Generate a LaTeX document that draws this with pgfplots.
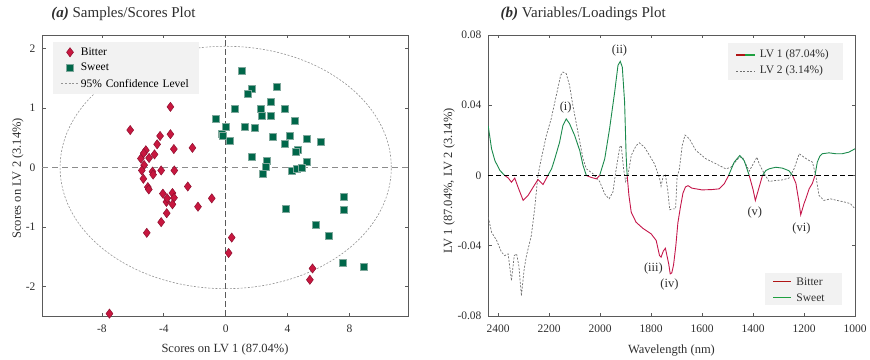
\documentclass[border=0pt]{standalone}
\usepackage{fontspec}
\setmainfont{Liberation Serif}
\usepackage{pgfplots}
\pgfplotsset{compat=1.18}
\definecolor{txt}{HTML}{2E2E2E}
\definecolor{axgray}{HTML}{5A5A5A}
\definecolor{bitterfill}{HTML}{C8173F}
\definecolor{bitteredge}{HTML}{8E1030}
\definecolor{sweetfill}{HTML}{00674A}
\definecolor{sweetedge}{HTML}{7FA89C}
\definecolor{lvred}{HTML}{C4164A}
\definecolor{lvgreen}{HTML}{1B8A4C}
\definecolor{bitterline}{HTML}{B01515}
\definecolor{sweetline}{HTML}{1FA040}
\definecolor{legbg}{HTML}{F2F2F2}
\definecolor{lvtwo}{HTML}{6E6E6E}
\pgfplotsset{
  common/.style={
    scale only axis, height=281pt,
    axis line style={axgray, line width=0.9pt},
    tick align=inside, major tick length=3.5pt,
    tick style={axgray, line width=0.7pt},
    every tick label/.append style={font=\fontsize{11.5}{13}\selectfont, text=txt},
    label style={font=\fontsize{12.5}{14}\selectfont, text=txt},
    legend style={fill=legbg, draw=none, font=\fontsize{11.5}{13}\selectfont,
      inner xsep=6pt, inner ysep=3.5pt, row sep=2.5pt},
    title style={font=\fontsize{15}{17}\selectfont, text=txt, anchor=base west},
    legend cell align=left,
    scaled ticks=false,
    /pgf/number format/assume math mode=true,
  }
}
\begin{document}
\begin{tikzpicture}
\path[use as bounding box] (0,0) rectangle (870pt,359pt);
% ---------------- (a) ----------------
\begin{axis}[common, at={(42pt,43pt)}, anchor=south west, width=366pt,
  xmin=-11.87, xmax=11.78, ymin=-2.5, ymax=2.23,
  xtick={-8,-4,0,4,8}, xticklabels={-8,-4,0,4,8},
  ytick={-2,-1,0,1,2}, yticklabels={-2,-1,0,1,2},
  xticklabel style={yshift=-5.5pt}, yticklabel style={xshift=-3pt},
  xlabel={Scores on LV 1 (87.04\%)}, ylabel={Scores on LV 2 (3.14\%)},
  xlabel style={at={(axis description cs:0.5,0)}, anchor=base, yshift=-36.8pt},
  ylabel style={at={(axis description cs:-0.0574,0.49)}, anchor=base},
  title={\textbf{\textit{(a)}} Samples/Scores Plot},
  title style={at={(axis description cs:0.016,1)}, yshift=11pt},
  legend style={at={(axis description cs:0.030,0.975)}, anchor=north west, inner xsep=8pt, text width=108pt},
]
\addplot[gray!90, dash pattern=on 6pt off 4pt, line width=0.8pt, forget plot] coordinates {(-11.87,0) (11.78,0)};
\addplot[axgray, dash pattern=on 6pt off 3pt, line width=0.8pt, forget plot] coordinates {(0,-2.5) (0,2.23)};
\draw[gray!85, dash pattern=on 2pt off 1.6pt, line width=0.6pt] (axis cs:0,0) ellipse [x radius=10.7, y radius=2.04];
\addplot[only marks, mark=diamond*, mark size=4.6pt, mark options={fill=bitterfill, draw=bitteredge, line width=0.5pt}] coordinates {
(-3.57,1.02) (-6.17,0.63) (-4.24,0.53) (-3.57,0.56) (-4.43,0.39) (-3.35,0.31) (-2.15,0.33)
(-5.16,0.29) (-4.60,0.22) (-4.95,0.16) (-5.48,0.15) (-5.30,0.24) (-5.27,0.04) (-5.42,-0.05)
(-4.73,-0.07) (-4.69,-0.12) (-4.17,-0.05) (-3.32,-0.05) (-5.32,-0.19) (-5.03,-0.33) (-4.97,-0.37)
(-2.45,-0.32) (-4.06,-0.44) (-3.44,-0.43) (-3.34,-0.51) (-3.83,-0.58) (-3.44,-0.62) (-3.78,-0.52)
(-0.90,-0.52) (-1.79,-0.66) (-3.81,-0.77) (-4.17,-0.92) (-5.10,-1.10) (0.39,-1.18) (0.19,-1.44)
(-7.51,-2.46) (5.61,-1.70) (5.44,-1.89)};
\addlegendentry{Bitter}
\addplot[only marks, mark=square*, mark size=3.5pt, mark options={fill=sweetfill, draw=sweetedge, line width=0.7pt}] coordinates {
(1.05,1.63) (1.70,1.33) (1.44,1.24) (3.33,1.35) (2.92,1.11) (0.58,0.98) (2.28,0.98) (2.32,0.87)
(2.92,0.87) (3.85,0.98) (4.47,0.78) (0.04,0.68) (-0.22,0.57) (-0.20,0.54) (-0.63,0.82) (0.26,0.45)
(1.22,0.69) (1.89,0.67) (3.03,0.51) (4.13,0.54) (3.81,0.40) (5.27,0.49) (6.15,0.43) (4.65,0.29)
(4.55,0.27) (1.72,0.18) (2.65,0.11) (2.58,0.01) (2.43,-0.11) (5.25,0.10) (4.26,-0.05) (4.62,-0.03)
(4.90,-0.01) (7.63,-0.50) (7.63,-0.72) (3.89,-0.70) (5.83,-0.96) (6.68,-1.15) (7.55,-1.60) (8.92,-1.68)};
\addlegendentry{Sweet}
\addlegendimage{gray!85, dash pattern=on 2pt off 1.6pt, line width=0.6pt}
\addlegendentry{95\% Confidence Level}
\end{axis}
% ---------------- (b) ----------------
\begin{axis}[common, at={(488pt,43pt)}, anchor=south west, width=367pt,
  xmin=1000, xmax=2440, x dir=reverse, ymin=-0.08, ymax=0.08,
  xtick={1000,1200,1400,1600,1800,2000,2200,2400},
  xticklabels={1000,1200,1400,1600,1800,2000,2200,2400},
  ytick={-0.08,-0.04,0,0.04,0.08}, yticklabels={-0.08,-0.04,0,0.04,0.08},
  xticklabel style={yshift=-5.5pt}, yticklabel style={xshift=-3pt},
  xlabel={Wavelength (nm)}, ylabel={LV 1 (87.04\%, LV 2 (3.14\%)},
  xlabel style={at={(axis description cs:0.5,0)}, anchor=base, yshift=-37pt},
  ylabel style={at={(axis description cs:-0.098,0.48)}, anchor=base},
  title={\textbf{\textit{(b)}} Variables/Loadings Plot},
  title style={at={(axis description cs:0.025,1)}, yshift=11pt},
]
% LV 2
\addplot[lvtwo, dash pattern=on 2pt off 1.5pt, line width=0.7pt] coordinates {
(2439,-0.0237) (2426,-0.0323) (2406,-0.037) (2387,-0.0437) (2374,-0.0456) (2361,-0.0446)
(2348,-0.0598) (2337,-0.0456) (2328,-0.0446) (2319,-0.0513) (2309,-0.0684) (2298,-0.0532)
(2289,-0.0456) (2270,-0.0342) (2257,-0.019) (2244,0) (2231,0.0095) (2211,0.0228) (2192,0.0323)
(2172,0.0456) (2155,0.057) (2146,0.0589) (2133,0.058) (2120,0.0513) (2107,0.0399) (2087,0.0247)
(2067,0.0095) (2054,0.0038) (2028,0.001) (2002,-0.0034) (1982,-0.0105) (1965,-0.0133)
(1950,-0.0095) (1937,0.0038) (1923,0.0161) (1917,0.017) (1908,0.0038) (1900,-0.0034) (1891,0)
(1878,0.0114) (1859,0.017) (1846,0.0186) (1826,0.0161) (1806,0.0114) (1787,0.0067)
(1767,-0.0015) (1761,-0.006) (1752,0) (1744,0.0005) (1735,-0.008) (1727,-0.0195) (1715,-0.019)
(1704,-0.019) (1698,-0.001) (1689,0.0038) (1678,0.017) (1667,0.023) (1650,0.0209) (1624,0.0142)
(1585,0.0095) (1546,0.0067) (1507,0.0038) (1487,0.0047) (1454,0.0104) (1441,0.0104) (1435,0.0085)
(1415,0.0025) (1385,0.0104) (1376,0.0067) (1356,0.001) (1337,-0.0034) (1311,-0.0028)
(1285,-0.0025) (1259,-0.0015) (1239,0.0038) (1219,0.0124) (1200,0.0104) (1180,0.0085)
(1167,0.0076) (1154,0) (1141,-0.0114) (1122,-0.0142) (1096,-0.0133) (1070,-0.0142)
(1044,-0.015) (1018,-0.016) (1000,-0.019)};
% LV 1, positive parts (green)
\addplot[lvgreen, line width=0.9pt] coordinates {(2439,0.0281) (2426,0.0152) (2413,0.0085) (2393,0.0028) (2374,0)};
\addplot[lvgreen, line width=0.9pt] coordinates {(2205,0) (2190,0.004) (2178,0.0095) (2159,0.019) (2146,0.0285) (2133,0.0322) (2120,0.0295) (2100,0.0228) (2080,0.0142) (2067,0.0057) (2054,0)};
\addplot[lvgreen, line width=0.9pt] coordinates {(2002,0) (1982,0.0095) (1963,0.0266) (1943,0.0475) (1930,0.0627) (1921,0.065) (1913,0.0617) (1904,0.0418) (1898,0.0114) (1894,0)};
\addplot[lvgreen, line width=0.9pt] coordinates {(1496,0) (1474,0.0076) (1452,0.0114) (1435,0.0085) (1415,0)};
\addplot[lvgreen, line width=0.9pt] coordinates {(1363,0) (1350,0.0028) (1337,0.0038) (1311,0.0047) (1285,0.0042) (1259,0.0027) (1245,0)};
\addplot[lvgreen, line width=0.9pt] coordinates {(1157,0) (1148,0.0076) (1138,0.011) (1128,0.0124) (1102,0.0129) (1076,0.0124) (1050,0.0124) (1024,0.0133) (1000,0.0152)};
% LV 1, negative parts (red)
\addplot[lvred, line width=0.9pt] coordinates {(2374,0) (2360,-0.0015) (2348,-0.0038) (2335,-0.0015) (2322,-0.0067) (2302,-0.0142) (2283,-0.0114) (2263,-0.0067) (2244,-0.0023) (2224,-0.0051) (2205,0)};
\addplot[lvred, line width=0.9pt] coordinates {(2054,0) (2035,-0.0011) (2015,-0.0019) (2002,0)};
\addplot[lvred, line width=0.9pt] coordinates {(1894,0) (1887,-0.0114) (1878,-0.0209) (1859,-0.0266) (1833,-0.030) (1800,-0.0332) (1780,-0.037) (1767,-0.0456) (1761,-0.0465) (1752,-0.043) (1744,-0.0414) (1731,-0.0503) (1725,-0.056) (1719,-0.0555) (1712,-0.051) (1703,-0.040) (1695,-0.027) (1685,-0.018) (1675,-0.010) (1665,-0.0065) (1655,-0.0058) (1640,-0.0072) (1600,-0.0082) (1560,-0.0080) (1533,-0.0076) (1513,-0.0047) (1496,0)};
\addplot[lvred, line width=0.9pt] coordinates {(1415,0) (1400,-0.008) (1391,-0.0142) (1376,-0.0066) (1363,0)};
\addplot[lvred, line width=0.9pt] coordinates {(1245,0) (1232,-0.0044) (1220,-0.015) (1213,-0.0224) (1200,-0.016) (1193,-0.0133) (1180,-0.0076) (1167,-0.0044) (1157,0)};
% zero line
\addplot[black, dash pattern=on 5pt off 3pt, line width=1.1pt] coordinates {(2440,0) (1000,0)};
\begin{scope}[every node/.style={font=\fontsize{12.5}{14}\selectfont, text=txt}]
\node at (axis cs:2135,0.0388) {(i)};
\node at (axis cs:1924,0.0713) {(ii)};
\node at (axis cs:1791,-0.0532) {(iii)};
\node at (axis cs:1728,-0.0623) {(iv)};
\node at (axis cs:1393,-0.0209) {(v)};
\node at (axis cs:1210,-0.0304) {(vi)};
\end{scope}
% upper legend of (b)
\fill[legbg] (axis description cs:0.653,0.9715) rectangle (axis description cs:0.966,0.840);
\draw[bitterline, line width=1.2pt] (axis description cs:0.6765,0.929) -- (axis description cs:0.7015,0.929);
\draw[sweetline, line width=1.2pt] (axis description cs:0.7015,0.929) -- (axis description cs:0.7265,0.929);
\draw[lvtwo, dash pattern=on 2pt off 1.5pt, line width=0.7pt] (axis description cs:0.6765,0.872) -- (axis description cs:0.7265,0.872);
\node[anchor=west, inner sep=0pt, font=\fontsize{11.5}{13}\selectfont, text=txt] at (axis description cs:0.740,0.929) {LV 1 (87.04\%)};
\node[anchor=west, inner sep=0pt, font=\fontsize{11.5}{13}\selectfont, text=txt] at (axis description cs:0.740,0.872) {LV 2 (3.14\%)};
% lower legend of (b)
\fill[legbg] (axis description cs:0.7539,0.153) rectangle (axis description cs:0.9638,0.039);
\fill[color={rgb,255:red,176;green,21;blue,21}] (axis description cs:0.7765,0.1195) rectangle (axis description cs:0.8255,0.1245);
\fill[color={rgb,255:red,31;green,160;blue,64}] (axis description cs:0.7765,0.0625) rectangle (axis description cs:0.8255,0.0675);
\node[anchor=west, inner sep=0pt, font=\fontsize{11.5}{13}\selectfont, text=txt] at (axis description cs:0.840,0.122) {Bitter};
\node[anchor=west, inner sep=0pt, font=\fontsize{11.5}{13}\selectfont, text=txt] at (axis description cs:0.840,0.065) {Sweet};
\end{axis}
\end{tikzpicture}
\end{document}
